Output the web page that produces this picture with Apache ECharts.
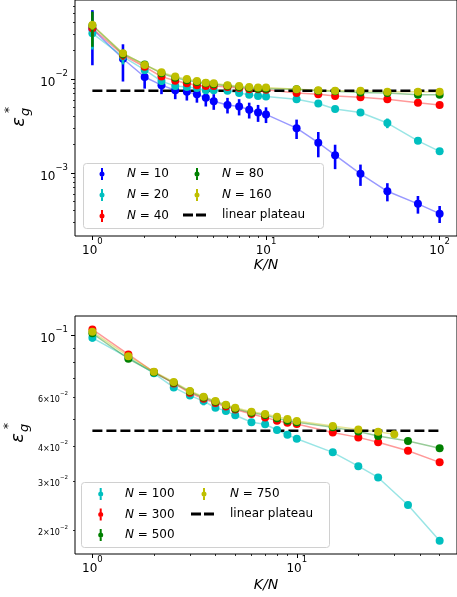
<!DOCTYPE html>
<html>
<head>
<meta charset="utf-8">
<script src="https://cdn.jsdelivr.net/npm/echarts@6/dist/echarts.min.js"></script>
<style>
  html, body { margin: 0; padding: 0; background: #fff; }
  #chart { width: 457px; height: 597px; }
</style>
</head>
<body>
<div id="chart"></div>
<script>
// top panel: K/N values and eps_g for each N
const kTop = [1, 1.5, 2, 2.5, 3, 3.5, 4, 4.5, 5, 6, 7, 8, 9, 10, 15, 20, 25, 35, 50, 75, 100];
const n10 = [0.034, 0.0164, 0.0105, 0.0086, 0.0076, 0.0073, 0.0069, 0.0063, 0.0058, 0.0053, 0.0051, 0.0047, 0.0044, 0.0042, 0.0030, 0.0021, 0.00155, 0.00098, 0.00064, 0.00047, 0.00037];
const n10err = [0.020, 0.007, 0.0026, 0.0017, 0.0015, 0.0014, 0.0013, 0.0012, 0.0011, 0.0010, 0.0010, 0.0009, 0.0009, 0.0008, 0.0007, 0.00063, 0.00045, 0.00025, 0.00014, 0.0001, 0.000076];
const n20 = [0.0306, 0.0173, 0.0125, 0.0095, 0.0084, 0.0082, 0.0080, 0.0076, 0.0076, 0.0075, 0.0071, 0.0068, 0.0066, 0.0065, 0.0061, 0.0055, 0.0048, 0.0044, 0.0034, 0.0022, 0.0017];
const n20err = [0.010, 0.003, 0.0012, 0.0008, 0.0006, 0.0005, 0.0005, 0.0004, 0.0004, 0.0003, 0.0003, 0.0003, 0.0003, 0.0003, 0.0003, 0.0002, 0.0002, 0.0002, 0.0004, 0.0001, 0.0001];
const n40 = [0.0346, 0.018, 0.0135, 0.0106, 0.0096, 0.0090, 0.0086, 0.0084, 0.0084, 0.0082, 0.0080, 0.0078, 0.0078, 0.0077, 0.0071, 0.0069, 0.0066, 0.0064, 0.0061, 0.0056, 0.0053];
const n40err = [0.006, 0.002, 0.001, 0.0004, 0.0003, 0.0003, 0.0003, 0.0003, 0.0003, 0.0003, 0.0003, 0.0003, 0.0003, 0.0003, 0.0002, 0.0002, 0.0002, 0.0002, 0.0002, 0.0002, 0.0002];
const n80 = [0.037, 0.0185, 0.0143, 0.0115, 0.0103, 0.0097, 0.0093, 0.0090, 0.0088, 0.0085, 0.0082, 0.0080, 0.0079, 0.0079, 0.0078, 0.0075, 0.0074, 0.0072, 0.0071, 0.0068, 0.0068];
const n80err = [0.015, 0.002, 0.001, 0.0004, 0.0003, 0.0003, 0.0003, 0.0003, 0.0003, 0.0003, 0.0003, 0.0003, 0.0003, 0.0003, 0.0002, 0.0002, 0.0002, 0.0002, 0.0002, 0.0002, 0.0002];
const n160 = [0.0375, 0.0188, 0.0141, 0.0118, 0.0106, 0.0100, 0.0095, 0.0091, 0.0090, 0.0086, 0.0084, 0.0082, 0.0081, 0.0081, 0.0078, 0.0076, 0.0075, 0.0075, 0.0073, 0.0073, 0.0073];
const n160err = [0.004, 0.001, 0.0006, 0.0003, 0.0003, 0.0003, 0.0003, 0.0003, 0.0003, 0.0003, 0.0003, 0.0003, 0.0003, 0.0003, 0.0002, 0.0002, 0.0002, 0.0002, 0.0002, 0.0002, 0.0002];
const plateauTop = 0.0075;

// bottom panel
const kBot = [1, 1.5, 2, 2.5, 3, 3.5, 4, 4.5, 5, 6, 7, 8, 9, 10, 15, 20, 25, 35, 50];
const kBot750 = [1, 1.5, 2, 2.5, 3, 3.5, 4, 4.5, 5, 6, 7, 8, 9, 10, 15, 20, 25, 30];
const m100 = [0.0978, 0.083, 0.073, 0.065, 0.0608, 0.0581, 0.055, 0.0536, 0.0517, 0.0488, 0.048, 0.0458, 0.044, 0.0426, 0.0381, 0.034, 0.031, 0.0247, 0.0184];
const m100err = [0.003, 0.002, 0.0015, 0.0015, 0.0015, 0.002, 0.001, 0.001, 0.001, 0.001, 0.001, 0.001, 0.001, 0.001, 0.0008, 0.0008, 0.0006, 0.0005, 0.0004];
const m300 = [0.1048, 0.0853, 0.0738, 0.0672, 0.0622, 0.0592, 0.0572, 0.0556, 0.0542, 0.0522, 0.0508, 0.0494, 0.0486, 0.0481, 0.0449, 0.0431, 0.0414, 0.0386, 0.0351];
const m300err = [0.002, 0.001, 0.0008, 0.0006, 0.0006, 0.0005, 0.0005, 0.0005, 0.0005, 0.0005, 0.0005, 0.0005, 0.0005, 0.0005, 0.0004, 0.0004, 0.0004, 0.0004, 0.0004];
const m500 = [0.1015, 0.0823, 0.0735, 0.0675, 0.0628, 0.0598, 0.0578, 0.0561, 0.0546, 0.0528, 0.0518, 0.0504, 0.0494, 0.0488, 0.0468, 0.0452, 0.0436, 0.0418, 0.0394];
const m500err = [0.001, 0.0008, 0.0006, 0.0005, 0.0005, 0.0005, 0.0005, 0.0005, 0.0005, 0.0005, 0.0005, 0.0005, 0.0005, 0.0005, 0.0004, 0.0004, 0.0004, 0.0004, 0.0004];
const m750 = [0.1027, 0.0841, 0.074, 0.068, 0.0631, 0.0602, 0.0581, 0.0564, 0.055, 0.0532, 0.0522, 0.0511, 0.0501, 0.0493, 0.0473, 0.046, 0.0451, 0.0442];
const m750err = [0.001, 0.0008, 0.0006, 0.0005, 0.0005, 0.0005, 0.0005, 0.0005, 0.0005, 0.0005, 0.0005, 0.0005, 0.0005, 0.0005, 0.0004, 0.0004, 0.0004, 0.0004];
const plateauBot = 0.0455;

// tick values
const xTopMajor = [1, 10, 100];
const xTopMinor = [2, 3, 4, 5, 6, 7, 8, 9, 20, 30, 40, 50, 60, 70, 80, 90];
const yTopMajor = [0.01, 0.001];
const yTopMinor = [0.0003, 0.0004, 0.0005, 0.0006, 0.0007, 0.0008, 0.0009, 0.002, 0.003, 0.004, 0.005, 0.006, 0.007, 0.008, 0.009, 0.02, 0.03, 0.04, 0.05, 0.06];
const xBotMajor = [1, 10];
const xBotMinor = [2, 3, 4, 5, 6, 7, 8, 9, 20, 30, 40, 50];
const yBotMajor = [0.1];
const yBotMinor = [0.02, 0.03, 0.04, 0.05, 0.06, 0.07, 0.08, 0.09];
const yBotMinorLabels = [0.02, 0.03, 0.04, 0.06];

const FONT = 'DejaVu Sans';
const chart = echarts.init(document.getElementById('chart'));

const powLabel = v => {
  const e = Math.round(Math.log10(v));
  return '{b|10}{s|' + (e < 0 ? '\u2212' : '') + Math.abs(e) + '}';
};
const minorLabel = v => {
  const e = Math.floor(Math.log10(v) + 1e-9);
  const m = Math.round(v / Math.pow(10, e));
  return '{m|' + m + '\u00d710}{ms|' + (e < 0 ? '\u2212' : '') + Math.abs(e) + '}';
};
const powRich = {
  b: { fontSize: 12, fontFamily: FONT, color: '#000', lineHeight: 20, verticalAlign: 'bottom' },
  s: { fontSize: 8.5, fontFamily: FONT, color: '#000', lineHeight: 10, verticalAlign: 'top' }
};
const minorRich = {
  m: { fontSize: 8, fontFamily: FONT, color: '#000', lineHeight: 13, verticalAlign: 'bottom' },
  ms: { fontSize: 5.5, fontFamily: FONT, color: '#000', lineHeight: 7, verticalAlign: 'top' }
};

function mainAxis(grid, pos, min, max, major) {
  return {
    type: 'log', gridIndex: grid, position: pos, min: min, max: max,
    axisLine: { show: false }, splitLine: { show: false },
    axisTick: { show: true, length: 4, customValues: major, lineStyle: { color: '#000', width: 1 } },
    axisLabel: {
      show: true, customValues: major, formatter: powLabel, rich: powRich,
      margin: pos === 'left' ? 7 : 1
    }
  };
}
function minorAxis(grid, pos, min, max, ticks, labels) {
  return {
    type: 'log', gridIndex: grid, position: pos, min: min, max: max,
    axisLine: { show: false }, splitLine: { show: false },
    axisTick: { show: true, length: 2, customValues: ticks, lineStyle: { color: '#000', width: 0.8 } },
    axisLabel: labels ? { show: true, customValues: labels, formatter: minorLabel, rich: minorRich, margin: 7 } : { show: false }
  };
}

const errRender = (color, w) => (params, api) => {
  const x = api.value(0), y = api.value(1), e = api.value(2);
  const p1 = api.coord([x, y - e]);
  const p2 = api.coord([x, y + e]);
  return { type: 'line', shape: { x1: p1[0], y1: p1[1], x2: p2[0], y2: p2[1] }, style: { stroke: color, lineWidth: w } };
};

const series = [];
function addSet(name, xs, ys, es, color, grid, idx, errW) {
  const pts = xs.map((x, i) => [x, ys[i]]);
  series.push({
    type: 'line', xAxisIndex: grid * 2, yAxisIndex: grid * 2, data: pts, symbol: 'none', z: 1,
    lineStyle: { color: color, opacity: 0.4, width: 1.5 }, silent: true, animation: false
  });
  series.push({
    type: 'custom', xAxisIndex: grid * 2, yAxisIndex: grid * 2, z: 3 + idx * 2,
    data: xs.map((x, i) => [x, ys[i], es[i]]), renderItem: errRender(color, errW), animation: false
  });
  series.push({
    name: name, type: 'scatter', xAxisIndex: grid * 2, yAxisIndex: grid * 2, data: pts, z: 4 + idx * 2,
    symbol: 'circle', symbolSize: 8, itemStyle: { color: color, opacity: 1 }, animation: false
  });
}
addSet('N = 10', kTop, n10, n10err, '#0000ff', 0, 0, 2.6);
addSet('N = 20', kTop, n20, n20err, '#00bfbf', 0, 1, 2.6);
addSet('N = 40', kTop, n40, n40err, '#ff0000', 0, 2, 2.6);
addSet('N = 80', kTop, n80, n80err, '#008000', 0, 3, 2.6);
addSet('N = 160', kTop, n160, n160err, '#bfbf00', 0, 4, 2.6);
series.push({
  name: 'linear plateau', type: 'line', xAxisIndex: 0, yAxisIndex: 0, symbol: 'none', z: 2,
  data: [[kTop[0], plateauTop], [kTop[kTop.length - 1], plateauTop]],
  itemStyle: { color: '#000' }, lineStyle: { color: '#000', width: 2.6, type: [10, 4] }, animation: false
});
addSet('N = 100', kBot, m100, m100err, '#00bfbf', 1, 0, 2.6);
addSet('N = 300', kBot, m300, m300err, '#ff0000', 1, 1, 2.6);
addSet('N = 500', kBot, m500, m500err, '#008000', 1, 2, 2.6);
addSet('N = 750', kBot750, m750, m750err, '#bfbf00', 1, 3, 2.6);
series.push({
  name: 'linear plateau', type: 'line', xAxisIndex: 2, yAxisIndex: 2, symbol: 'none', z: 2,
  data: [[kBot[0], plateauBot], [kBot[kBot.length - 1], plateauBot]],
  itemStyle: { color: '#000' }, lineStyle: { color: '#000', width: 2.6, type: [10, 4] }, animation: false
});

// legend icons drawn in pixel units; zero-length end points fix the box so the
// fixed 5px icon/text gap lands the text where matplotlib put it
const barIcon = w => 'path://M0,0L0,0 M' + w + ',12L' + w + ',12 M1.5,0H3.5V12H1.5Z M2.5,3.5A2.5,2.5,0,1,1,2.5,8.5A2.5,2.5,0,1,1,2.5,3.5Z';
const dashIcon = 'path://M0,0H10V3H0Z M13,0H23V3H13Z M34,3L34,3';
const legendText = {
  fontSize: 12, fontFamily: FONT, color: '#000', lineHeight: 14,
  rich: { i: { fontStyle: 'italic', fontSize: 12, fontFamily: FONT, lineHeight: 14 } }
};
const nFmt = name => name.indexOf('N') === 0 ? '{i|N} = ' + name.slice(4) : name;
function legend(names, left, top, icon, w, h, gap) {
  return {
    data: names, orient: 'vertical', left: left, top: top, padding: 0, icon: icon,
    itemWidth: w, itemHeight: h, itemGap: gap, selectedMode: false,
    formatter: nFmt, textStyle: legendText, z: 60
  };
}

function epsLabel(cx, cy) {
  return {
    type: 'group', x: cx, y: cy, rotation: Math.PI / 2, z: 50,
    children: [
      { type: 'text', x: 0, y: 0, style: { text: '\u03b5', fontSize: 18, fontStyle: 'italic', fontFamily: FONT, fill: '#000', align: 'center', verticalAlign: 'middle' } },
      { type: 'text', x: 9, y: -9, style: { text: '*', fontSize: 12, fontFamily: FONT, fill: '#000', align: 'left', verticalAlign: 'middle' } },
      { type: 'text', x: 6, y: 7, style: { text: 'g', fontSize: 13, fontStyle: 'italic', fontFamily: FONT, fill: '#000', align: 'left', verticalAlign: 'middle' } }
    ]
  };
}

chart.setOption({
  backgroundColor: '#fff',
  animation: false,
  grid: [
    { left: 75, top: 0, width: 388, height: 236, show: true, borderColor: '#000', borderWidth: 1, backgroundColor: 'transparent' },
    { left: 75, top: 316, width: 385, height: 238, show: true, borderColor: '#000', borderWidth: 1, backgroundColor: 'transparent' }
  ],
  xAxis: [
    Object.assign(mainAxis(0, 'bottom', 0.794, 125.9, xTopMajor), {
      name: 'K/N', nameLocation: 'middle', nameGap: 22,
      nameTextStyle: { fontSize: 14, fontStyle: 'italic', fontFamily: FONT, color: '#000' }
    }),
    minorAxis(0, 'bottom', 0.794, 125.9, xTopMinor),
    Object.assign(mainAxis(1, 'bottom', 0.822, 60.8, xBotMajor), {
      name: 'K/N', nameLocation: 'middle', nameGap: 24,
      nameTextStyle: { fontSize: 14, fontStyle: 'italic', fontFamily: FONT, color: '#000' }
    }),
    minorAxis(1, 'bottom', 0.822, 60.8, xBotMinor)
  ],
  yAxis: [
    mainAxis(0, 'left', 0.000214, 0.0692, yTopMajor),
    minorAxis(0, 'left', 0.000214, 0.0692, yTopMinor),
    mainAxis(1, 'left', 0.01651, 0.117, yBotMajor),
    minorAxis(1, 'left', 0.01651, 0.117, yBotMinor, yBotMinorLabels)
  ],
  legend: [
    legend(['N = 10', 'N = 20', 'N = 40'], 99.5, 167, barIcon(22.5), 22.5, 12, 7),
    legend(['N = 80', 'N = 160'], 194.5, 167, barIcon(22.5), 22.5, 12, 7),
    legend(['linear plateau'], 183, 208, dashIcon, 34, 3, 7),
    legend(['N = 100', 'N = 300', 'N = 500'], 98.2, 487, barIcon(21.8), 21.8, 12, 6.5),
    legend(['N = 750'], 201.5, 487, barIcon(23.5), 23.5, 12, 7),
    legend(['linear plateau'], 191, 507, dashIcon, 34, 3, 7)
  ],
  graphic: [
    { type: 'rect', z: 40, shape: { x: 83.5, y: 163.5, width: 240, height: 65, r: 3 }, style: { fill: 'rgba(255,255,255,0.8)', stroke: '#d0d0d0', lineWidth: 1 } },
    { type: 'rect', z: 40, shape: { x: 81.5, y: 482.5, width: 248, height: 65, r: 3 }, style: { fill: 'rgba(255,255,255,0.8)', stroke: '#d0d0d0', lineWidth: 1 } },
    epsLabel(19, 122),
    epsLabel(18, 438)
  ],
  series: series
});
</script>
</body>
</html>
